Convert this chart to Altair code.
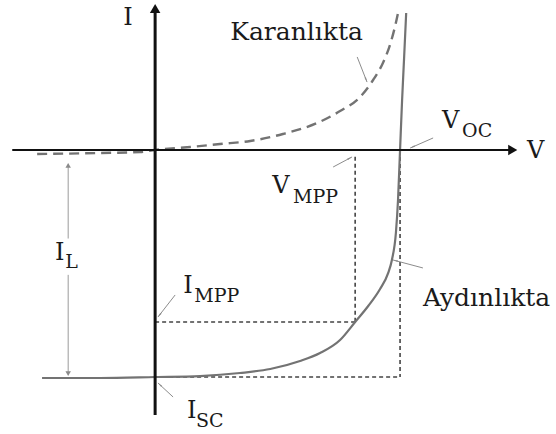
import math
import altair as alt
import pandas as pd

# ---- I-V characteristics of a solar cell (V in volts, I in amperes) ----
# Dark curve (dashed): diode characteristic
dark_v = [-0.289, -0.135, -0.037, 0.0, 0.086, 0.159, 0.233, 0.313, 0.397,
          0.453, 0.502, 0.534, 0.558, 0.576, 0.588, 0.595]
dark_i = [-0.053, -0.040, -0.026, 0.0, 0.040, 0.079, 0.119, 0.211, 0.357,
          0.515, 0.700, 0.925, 1.150, 1.401, 1.639, 1.811]

# Illuminated curve (solid): shifted down by the light current
light_v = [-0.277, -0.135, 0.0, 0.110, 0.208, 0.282, 0.355, 0.404, 0.453,
           0.490, 0.522, 0.551, 0.571, 0.580, 0.590, 0.595, 0.600, 0.605,
           0.610, 0.615]
light_i = [-3.013, -3.013, -3.0, -2.987, -2.947, -2.894, -2.788, -2.683, -2.511,
           -2.273, -2.062, -1.837, -1.625, -1.454, -1.084, -0.661, 0.0, 0.661,
           1.229, 1.810]

# Characteristic points
V_MPP, I_MPP = 0.490, -2.273
V_OC = 0.600
I_SC = -3.0

# ---- frame ----
W, H = 556, 434
X0, X1 = -0.380, 0.982
Y0, Y1 = -3.753, 1.982
PX_V = W / (X1 - X0)
PX_I = H / (Y1 - Y0)

xs = alt.Scale(domain=[X0, X1], nice=False, zero=False)
ys = alt.Scale(domain=[Y0, Y1], nice=False, zero=False)


def enc(**extra):
    return dict(
        x=alt.X("v:Q", scale=xs, axis=None),
        y=alt.Y("i:Q", scale=ys, axis=None),
        **extra,
    )


dark = pd.DataFrame({"v": dark_v, "i": dark_i})
light = pd.DataFrame({"v": light_v, "i": light_i})

dark_line = alt.Chart(dark).mark_line(
    color="#737373", strokeWidth=2.4, strokeDash=[10, 6], interpolate="monotone"
).encode(**enc())

light_line = alt.Chart(light).mark_line(
    color="#737373", strokeWidth=2.2, interpolate="monotone"
).encode(**enc())

# dashed construction lines for MPP, Voc and Isc
guides = pd.DataFrame({
    "v":  [V_MPP, 0.0, V_OC, 0.0],
    "i":  [-0.09, I_MPP, 0.0, I_SC],
    "v2": [V_MPP, V_MPP, V_OC, V_OC],
    "i2": [I_MPP, I_MPP, I_SC, I_SC],
})
guide_rules = alt.Chart(guides).mark_rule(
    color="#444444", strokeWidth=1.6, strokeDash=[4, 3]
).encode(**enc(x2="v2:Q", y2="i2:Q"))

# coordinate axes with arrow heads
axis_h = alt.Chart(pd.DataFrame({"v": [-0.350], "i": [0.0], "v2": [0.876], "i2": [0.0]})).mark_rule(
    color="#111111", strokeWidth=2.2
).encode(**enc(x2="v2:Q", y2="i2:Q"))
axis_v = alt.Chart(pd.DataFrame({"v": [0.0], "i": [-3.502], "v2": [0.0], "i2": [1.87]})).mark_rule(
    color="#111111", strokeWidth=3
).encode(**enc(x2="v2:Q", y2="i2:Q"))

head_up = alt.Chart(pd.DataFrame({"v": [0.0], "i": [1.870]})).mark_point(
    shape="triangle-up", filled=True, color="#111111", size=110, opacity=1
).encode(**enc())
head_right = alt.Chart(pd.DataFrame({"v": [0.876], "i": [0.0]})).mark_point(
    shape="triangle-right", filled=True, color="#111111", size=110, opacity=1
).encode(**enc())

# I_L span arrow (split around its label)
il = pd.DataFrame({
    "v":  [-0.213, -0.213],
    "i":  [-0.203, -1.650],
    "v2": [-0.213, -0.213],
    "i2": [-1.170, -2.955],
})
il_rules = alt.Chart(il).mark_rule(color="#9a9a9a", strokeWidth=1).encode(
    **enc(x2="v2:Q", y2="i2:Q"))
il_top = alt.Chart(pd.DataFrame({"v": [-0.213], "i": [-0.203]})).mark_point(
    shape="triangle-up", filled=True, color="#8a8a8a", size=30, opacity=1
).encode(**enc())
il_bot = alt.Chart(pd.DataFrame({"v": [-0.213], "i": [-2.955]})).mark_point(
    shape="triangle-down", filled=True, color="#8a8a8a", size=30, opacity=1
).encode(**enc())

# leader lines from labels to curve features
leaders = pd.DataFrame({
    "v":  [0.495, 0.681, 0.436, 0.049, 0.044, 0.656],
    "i":  [1.229, 0.159, -0.225, -1.916, -3.264, -1.559],
    "v2": [0.519, 0.625, 0.482, 0.007, 0.007, 0.583],
    "i2": [0.899, 0.026, -0.093, -2.207, -3.079, -1.454],
})
leader_rules = alt.Chart(leaders).mark_rule(color="#8c8c8c", strokeWidth=1).encode(
    **enc(x2="v2:Q", y2="i2:Q"))

# small wedge arrow heads at the leader ends
tips = []
for a, b, c, d in zip(leaders["v"], leaders["i"], leaders["v2"], leaders["i2"]):
    dx = (c - a) * PX_V
    dy = -(d - b) * PX_I
    ang = math.degrees(math.atan2(dx, -dy)) % 360
    n = math.hypot(dx, dy)
    back = 3.0
    tips.append({
        "v": c - dx / n * back / PX_V,
        "i": d + dy / n * back / PX_I,
        "ang": ang,
    })
tip_df = pd.DataFrame(tips)
leader_tips = alt.Chart(tip_df).mark_point(
    shape="wedge", filled=True, color="#8c8c8c", size=40, opacity=1
).encode(**enc(angle=alt.Angle("ang:Q", scale=None)))

# ---- labels ----
main_txt = pd.DataFrame({
    "t": ["I", "V", "V", "V", "I", "I", "I"],
    "v": [-0.078, 0.911, 0.703, 0.287, 0.069, 0.078, -0.245],
    "i": [1.652, -0.106, 0.291, -0.568, -1.890, -3.542, -1.454],
})
sub_txt = pd.DataFrame({
    "t": ["OC", "MPP", "MPP", "SC", "L"],
    "v": [0.752, 0.338, 0.096, 0.100, -0.220],
    "i": [0.172, -0.700, -2.009, -3.661, -1.559],
})
word_txt = pd.DataFrame({
    "t": ["Karanlıkta", "Aydınlıkta"],
    "v": [0.184, 0.656],
    "i": [1.454, -2.062],
})

main_labels = alt.Chart(main_txt).mark_text(
    align="left", baseline="alphabetic", font="DejaVu Serif", fontSize=24, color="#1a1a1a"
).encode(**enc(text="t:N"))
sub_labels = alt.Chart(sub_txt).mark_text(
    align="left", baseline="alphabetic", font="DejaVu Serif", fontSize=19, color="#1a1a1a"
).encode(**enc(text="t:N"))
word_labels = alt.Chart(word_txt).mark_text(
    align="left", baseline="alphabetic", font="DejaVu Serif", fontSize=25, color="#1a1a1a"
).encode(**enc(text="t:N"))

chart = alt.layer(
    guide_rules, dark_line, light_line, axis_h, axis_v, head_up, head_right,
    il_rules, il_top, il_bot, leader_rules, leader_tips,
    main_labels, sub_labels, word_labels,
).properties(
    width=W, height=H, padding=0, autosize=alt.AutoSizeParams(type="none"),
    background="white",
).configure_view(stroke=None)

chart.save("out.html", embed_options={"renderer": "svg", "actions": False})
